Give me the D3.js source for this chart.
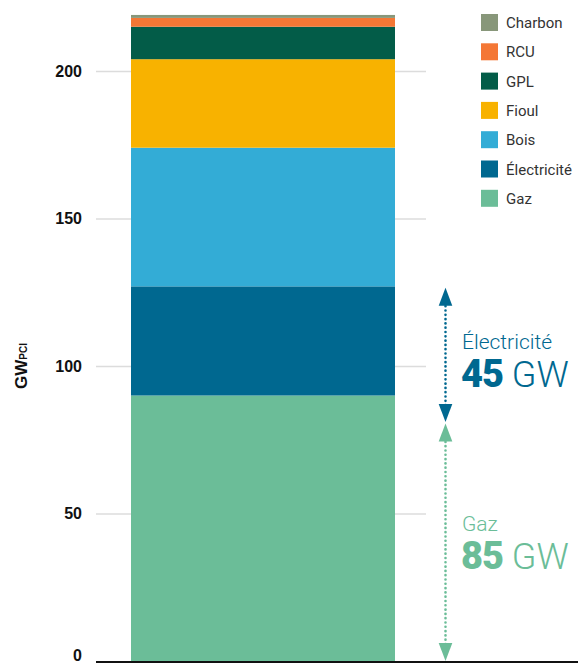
<!DOCTYPE html>
<html><head><meta charset="utf-8">
<script src="https://cdn.jsdelivr.net/npm/d3@7"></script>
<style>body{margin:0;background:#fff}svg{display:block}</style>
</head><body>
<svg id="chart" width="578" height="666"></svg>
<script>
const categories = ["Parc"];
const seriesNames = ["Gaz","Électricité","Bois","Fioul","GPL","RCU","Charbon"];
const seriesValues = [90, 37, 47, 30, 11, 3, 1];
const seriesColors = ["#6bbd98","#006890","#33acd6","#f8b200","#035c48","#f47735","#88977a"];
const legendOrder = ["Charbon","RCU","GPL","Fioul","Bois","Électricité","Gaz"];
const yTicks = [0,50,100,150,200];
const annotLabels = ["Électricité","Gaz"];
const annotValues = ["45","85"];
const annotUnits = ["GW","GW"];
const annotFrom = [81, 0];
const annotTo = [126.5, 80.5];
const annotColors = ["#006890","#6bbd98"];

const svg = d3.select("#chart");
const y = d3.scaleLinear().domain([0,200]).range([661,71]);
const x = d3.scaleBand().domain(categories).range([131,395]).padding(0);
const color = d3.scaleOrdinal().domain(seriesNames).range(seriesColors);

// gridlines
svg.append("g").attr("transform","translate(426,0)")
  .call(d3.axisRight(y).tickValues(yTicks.filter(d=>d>0)).tickSize(-330).tickFormat(""))
  .call(g=>g.select(".domain").remove())
  .call(g=>g.selectAll("line").attr("stroke","#dcdcdc").attr("stroke-width",1.3));

// stacked bar
const row = {cat:categories[0]};
seriesNames.forEach((s,i)=>row[s]=seriesValues[i]);
const stack = d3.stack().keys(seriesNames)([row]);
svg.append("g").selectAll("rect").data(stack).join("rect")
  .attr("x", d=>x(d[0].data.cat))
  .attr("width", x.bandwidth())
  .attr("y", d=>y(d[0][1]))
  .attr("height", d=>y(d[0][0])-y(d[0][1]))
  .attr("fill", d=>color(d.key));

// y axis labels
svg.append("g").attr("transform","translate(96,0)")
  .call(d3.axisLeft(y).tickValues(yTicks).tickSize(0).tickPadding(14))
  .call(g=>g.select(".domain").remove())
  .call(g=>g.selectAll("text").attr("font-family","Liberation Sans, Arial, sans-serif")
     .attr("font-weight","bold").attr("font-size",16).attr("fill","#111"))
  .call(g=>g.selectAll(".tick").filter(d=>d===0).select("text").attr("dy","-0.05em"));

// baseline
svg.append("line").attr("x1",96).attr("x2",578).attr("y1",y(0)+1).attr("y2",y(0)+1)
  .attr("stroke","#111").attr("stroke-width",2);

// y axis title
const yt = svg.append("text").attr("transform",`translate(27,${y(100)}) rotate(-90)`)
  .attr("text-anchor","middle").attr("font-family","Liberation Sans, Arial, sans-serif")
  .attr("font-weight","bold").attr("fill","#111");
yt.append("tspan").attr("font-size",17).text("GW");
yt.append("tspan").attr("font-size",10).text("PCI");

// legend
const lg = svg.append("g").selectAll("g").data(legendOrder).join("g")
  .attr("transform",(d,i)=>`translate(481,${14+i*29.3})`);
lg.append("rect").attr("width",17).attr("height",17).attr("fill",d=>color(d));
lg.append("text").attr("x",25).attr("y",14).attr("font-family","Roboto, sans-serif")
  .attr("font-size",15).attr("fill","#333").text(d=>d);

// annotations
const ax = 445.5;
const labelOff = [-6, -11];
const valueOff = [32, 27];
annotLabels.forEach((lab,i)=>{
  const c = annotColors[i];
  const g = svg.append("g");
  const y1 = y(annotTo[i]), y0 = y(annotFrom[i]);
  g.append("line").attr("x1",ax).attr("x2",ax).attr("y1",y1+14).attr("y2",y0-14)
    .attr("stroke",c).attr("stroke-width",2.6).attr("stroke-linecap","round")
    .attr("stroke-dasharray","0.1,4.2");
  g.append("path").attr("d",`M${ax},${y1} L${ax-6.8},${y1+18} L${ax+6.8},${y1+18} Z`).attr("fill",c);
  g.append("path").attr("d",`M${ax},${y0} L${ax-6.8},${y0-18} L${ax+6.8},${y0-18} Z`).attr("fill",c);
  const mid = (y0+y1)/2;
  g.append("text").attr("x",462).attr("y",mid+labelOff[i]).attr("font-family","Roboto, sans-serif")
    .attr("font-weight",300).attr("font-size",21).attr("fill",c).text(lab);
  const t = g.append("text").attr("x",461).attr("y",mid+valueOff[i]).attr("font-family","Roboto, sans-serif")
    .attr("fill",c).attr("font-size",38);
  t.append("tspan").attr("font-weight",900).attr("letter-spacing",-1).text(annotValues[i]);
  t.append("tspan").attr("font-weight",300).attr("font-size",36).text(" "+annotUnits[i]);
});
</script>
</body></html>
